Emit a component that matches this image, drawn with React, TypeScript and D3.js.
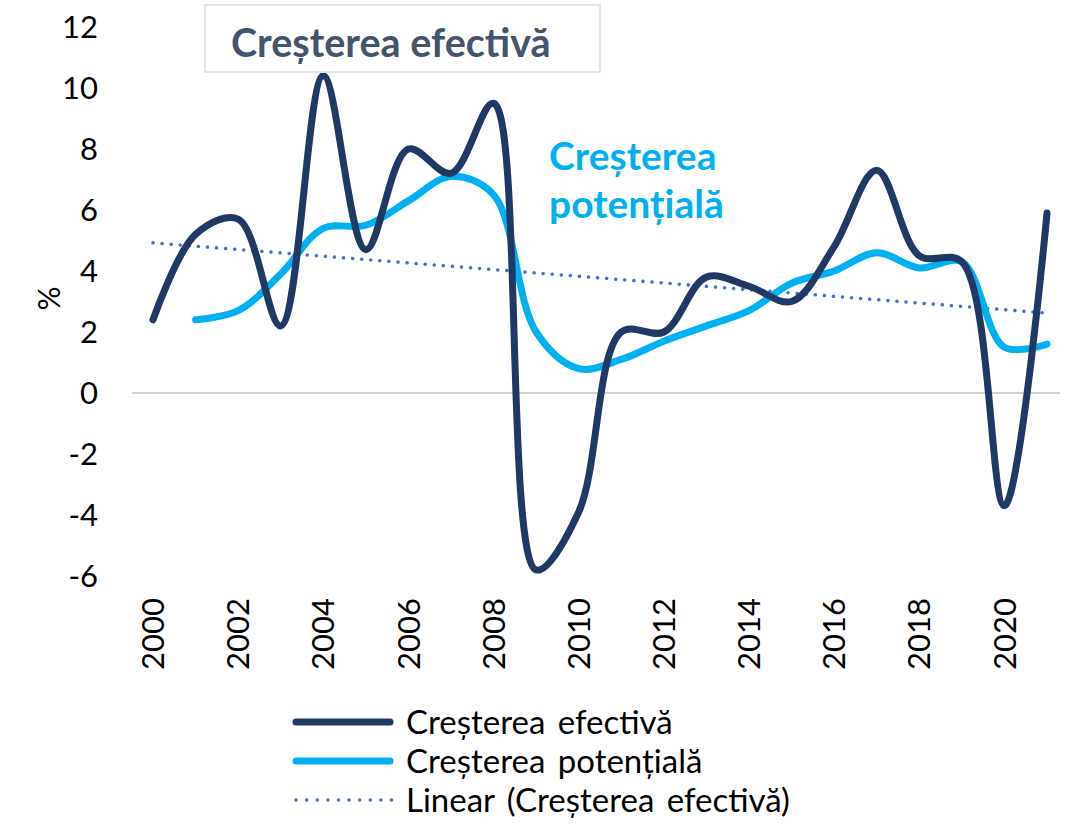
import React from "react";
import * as d3 from "d3";

const years = [2000, 2001, 2002, 2003, 2004, 2005, 2006, 2007, 2008, 2009, 2010, 2011, 2012, 2013, 2014, 2015, 2016, 2017, 2018, 2019, 2020, 2021];
const effective = [2.4, 5.2, 5.7, 2.2, 10.4, 4.7, 8.0, 7.2, 9.5, -5.8, -3.9, 2.0, 2.0, 3.8, 3.5, 3.0, 4.8, 7.3, 4.5, 4.3, -3.7, 5.9];
const potentialYears = [2001, 2002, 2003, 2004, 2005, 2006, 2007, 2008, 2009, 2010, 2011, 2012, 2013, 2014, 2015, 2016, 2017, 2018, 2019, 2020, 2021];
const potential = [2.4, 2.7, 3.9, 5.4, 5.5, 6.3, 7.1, 6.5, 2.0, 0.8, 1.1, 1.7, 2.2, 2.7, 3.6, 4.0, 4.6, 4.1, 4.3, 1.5, 1.6];
const yTicks = [-6, -4, -2, 0, 2, 4, 6, 8, 10, 12];
const xTicks = [2000, 2002, 2004, 2006, 2008, 2010, 2012, 2014, 2016, 2018, 2020];
const legendLabels = ["Creșterea efectivă", "Creșterea potențială", "Linear (Creșterea efectivă)"];

const navy = "#203864";
const cyan = "#00b0f0";
const dotted = "#4472c4";
const font = "Lato, 'Noto Sans', sans-serif";

export default function App() {
  const x = d3.scaleLinear().domain([1999.5, 2021.5]).range([131.7, 1068.3]);
  const y = d3.scaleLinear().domain([-6, 12]).range([576, 27]);

  // least squares trend on the effective series
  const mx = d3.mean(years)!;
  const my = d3.mean(effective)!;
  const slope =
    d3.sum(years, (v, i) => (v - mx) * (effective[i] - my)) /
    d3.sum(years, (v) => (v - mx) * (v - mx));
  const trend = (yr: number) => my + slope * (yr - mx);

  const line = d3
    .line<[number, number]>()
    .x((d) => x(d[0]))
    .y((d) => y(d[1]))
    .curve(d3.curveCatmullRom.alpha(0.5));

  const effPath = line(years.map((yr, i) => [yr, effective[i]]));
  const potPath = line(potentialYears.map((yr, i) => [yr, potential[i]]));

  return (
    <svg width={1072} height={824} style={{ display: "block", position: "absolute", left: 0, top: 0, background: "#fff" }}>
      <line x1={x(1999.5)} x2={1060} y1={y(0)} y2={y(0)} stroke="#d0d0d0" strokeWidth={2} />

      {yTicks.map((t) => (
        <text key={t} x={98} y={y(t)} dy="0.36em" textAnchor="end" fontFamily={font} fontSize={31} fill="#000">
          {t}
        </text>
      ))}
      <text transform={`translate(60,${y(3.1)}) rotate(-90)`} textAnchor="middle" fontFamily={font} fontSize={30} fill="#000">
        %
      </text>

      {xTicks.map((t) => (
        <text
          key={t}
          transform={`translate(${x(t)},598) rotate(-90)`}
          textAnchor="end"
          dy="0.36em"
          fontFamily={font}
          fontSize={31}
          fill="#000"
        >
          {t}
        </text>
      ))}

      <line
        x1={x(2000)}
        x2={x(2021)}
        y1={y(trend(2000))}
        y2={y(trend(2021))}
        stroke={dotted}
        strokeWidth={3.5}
        strokeDasharray="0.1 9"
        strokeLinecap="round"
      />
      <path d={potPath ?? ""} fill="none" stroke={cyan} strokeWidth={7} strokeLinejoin="round" strokeLinecap="round" />
      <path d={effPath ?? ""} fill="none" stroke={navy} strokeWidth={7} strokeLinejoin="round" strokeLinecap="round" />

      <rect x={205} y={5} width={395} height={67} fill="#fff" stroke="#e4e4e4" strokeWidth={2} />
      <text x={231} y={57} fontFamily={font} fontSize={39.5} fontWeight="bold" fill="#44546a">
        Creșterea efectivă
      </text>
      <text x={549} y={170} fontFamily={font} fontSize={39} fontWeight="bold" fill={cyan}>
        Creșterea
      </text>
      <text x={549} y={218} fontFamily={font} fontSize={39} fontWeight="bold" fill={cyan}>
        potențială
      </text>

      {legendLabels.map((lab, i) => {
        const ly = 722 + i * 39;
        return (
          <g key={lab}>
            {i < 2 ? (
              <line x1={296} x2={390} y1={ly} y2={ly} stroke={i === 0 ? navy : cyan} strokeWidth={7} strokeLinecap="round" />
            ) : (
              <line x1={296} x2={392} y1={ly} y2={ly} stroke={dotted} strokeWidth={3.5} strokeDasharray="0.1 10.5" strokeLinecap="round" />
            )}
            <text x={406} y={ly} dy="0.36em" fontFamily={font} fontSize={33} wordSpacing={4} fill="#000">
              {lab}
            </text>
          </g>
        );
      })}
    </svg>
  );
}
